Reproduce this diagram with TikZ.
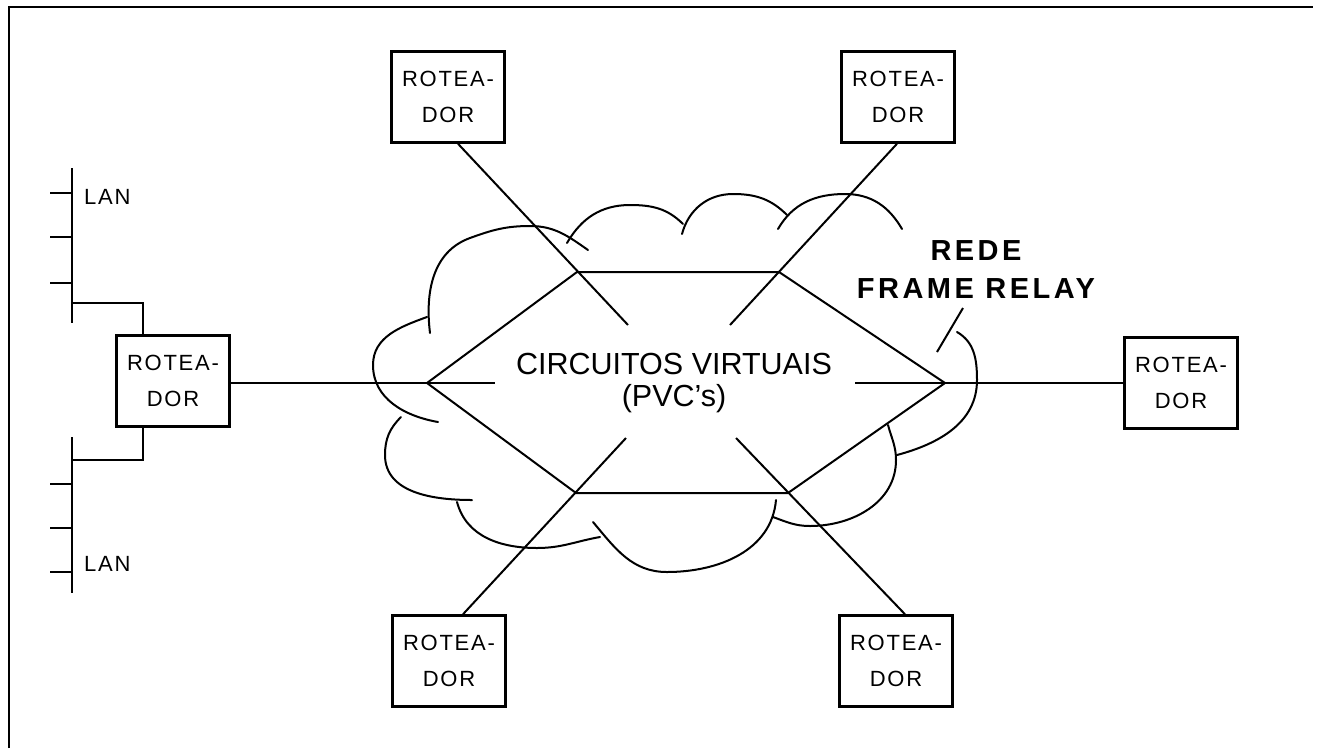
\documentclass[tikz,border=0pt]{standalone}
\usepackage{fontspec}
\setmainfont{Liberation Sans}
\newfontfamily\routerfont[LetterSpace=8]{Liberation Sans}
\newfontfamily\labelfont[LetterSpace=12]{Liberation Sans}
\usetikzlibrary{calc}

\begin{document}
\begin{tikzpicture}[x=1pt,y=-1pt,
    router/.style={draw,line width=2.5pt,minimum width=113pt,minimum height=91pt,
      inner sep=0pt,align=center,font=\routerfont\fontsize{22}{36}\selectfont},
    lan/.style={anchor=west,inner sep=0pt,font=\routerfont\fontsize{22}{26}\selectfont},
    bus/.style={line width=2.2pt},
    link/.style={line width=2pt},
    cloudline/.style={line width=2pt,line cap=round,line join=round}]
  \useasboundingbox (0,0) rectangle (1323,748);
  \draw[line width=2.5pt] (9,748) -- (9,7) -- (1313,7);

  % routers
  \node[router] (rtl) at (448,97) {ROTEA-\\DOR};
  \node[router] (rtr) at (898,97) {ROTEA-\\DOR};
  \node[router] (rl) at (173,381) {ROTEA-\\DOR};
  \node[router] (rr) at (1181,383) {ROTEA-\\DOR};
  \node[router] (rbl) at (449,661) {ROTEA-\\DOR};
  \node[router] (rbr) at (896,661) {ROTEA-\\DOR};

  % the two LANs on the left router
  \draw[bus] (72,168) -- (72,323);
  \foreach \y in {193,237,283} \draw[bus] (50,\y) -- (72,\y);
  \coordinate (lant) at (72,303);
  \draw[bus] ([xshift=-30pt]rl.north) |- (lant);
  \node[lan] (lan1) at (84,197) {LAN};
  \draw[bus] (72,437) -- (72,593);
  \foreach \y in {484,528,572} \draw[bus] (50,\y) -- (72,\y);
  \coordinate (lanb) at (72,460);
  \draw[bus] ([xshift=-30pt]rl.south) |- (lanb);
  \node[lan] (lan2) at (84,564) {LAN};

  % cloud, one bump at a time
  \draw[cloudline] (430,333) to[out=97,in=200] (470,238) to[out=20,in=180] (530,226) to[out=0,in=145] (588,250);
  \draw[cloudline] (567,243) to[out=60,in=180] (630,205) to[out=0,in=135] (683,224);
  \draw[cloudline] (682,234) to[out=75,in=180] (733,194) to[out=0,in=135] (787,215);
  \draw[cloudline] (778,229) to[out=60,in=180] (845,194) to[out=0,in=120] (902,229);
  \draw[cloudline] (957,332) to[out=-30,in=90] (977,380) to[out=-90,in=15] (897,455);
  \draw[cloudline] (888,425) to[out=-75,in=90] (896,460) to[out=-90,in=0] (810,526) to[out=180,in=-20] (773,517);
  \draw[cloudline] (776,500) to[out=-95,in=0] (667,572) to[out=180,in=-50] (593,522);
  \draw[cloudline] (600,537) to[out=190,in=0] (537,548) to[out=180,in=-75] (457,502);
  \draw[cloudline] (472,500) to[out=180,in=-90] (385,455) to[out=90,in=225] (401,417);
  \draw[cloudline] (427,317) to[out=200,in=90] (373,365) to[out=-90,in=170] (438,422);

  % virtual circuits
  \coordinate (hl) at (427,383);
  \coordinate (hr) at (945,383);
  \coordinate (vtl) at (577,272);
  \coordinate (vtr) at (779,272);
  \coordinate (vbl) at (576,493);
  \coordinate (vbr) at (788,493);
  \coordinate (el) at (495,383);
  \coordinate (etl) at (628,325);
  \coordinate (etr) at (730,325);
  \coordinate (er) at (855,383);
  \coordinate (ebl) at (626,438);
  \coordinate (ebr) at (736,438);
  \draw[link] (rl.east |- el) -- (el);
  \draw[link] (er) -- (rr.west |- er);
  \draw[link] ([xshift=10pt]rtl.south) -- (etl);
  \draw[link] ([xshift=-1pt]rtr.south) -- (etr);
  \draw[link] ([xshift=14pt]rbl.north) -- (ebl);
  \draw[link] ([xshift=9pt]rbr.north) -- (ebr);
  \draw[link] (hl) -- (vtl) -- (vtr) -- (hr) -- (vbr) -- (vbl) -- cycle;

  \node[align=center,font=\fontsize{30.5}{32}\selectfont] (pvc) at (674,383) {CIRCUITOS VIRTUAIS\\(PVC's)};

  \node[align=center,font=\labelfont\fontsize{29}{38}\bfseries\selectfont] (frl) at (976,270) {REDE\\FRAME RELAY};
  \coordinate (ldt) at (963,308);
  \coordinate (ldb) at (937,352);
  \draw[link] (ldt) -- (ldb);
\end{tikzpicture}
\end{document}
